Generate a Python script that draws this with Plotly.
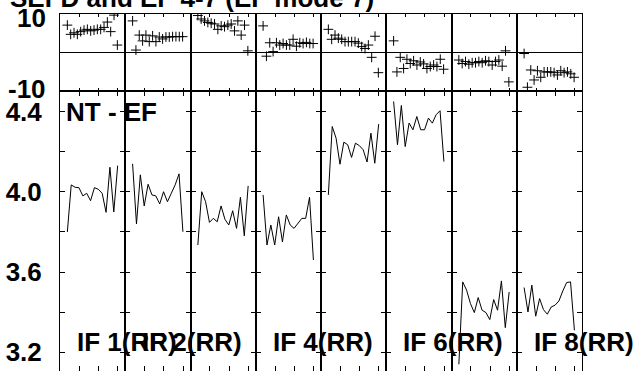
import plotly.graph_objects as go
from plotly.subplots import make_subplots

TITLE = "SEFD and EF 4-7 (EF mode 7)"
PANEL_LABEL = "NT - EF"
IF_LABELS = {1: "IF 1(RR)", 2: "IF 2(RR)", 4: "IF 4(RR)", 6: "IF 6(RR)", 8: "IF 8(RR)"}

# channels
CHAN_TOP = list(range(1, 17))
CHAN_BOT = list(range(1, 15))

# top panel: EF values per IF
EF = [
    [7.1, 4.7, 5.1, 4.7, 5.4, 5.8, 6.0, 5.6, 5.8, 6.0, 6.0, 6.5, 7.9, 5.4, 9.7, 1.9],
    [8.2, 0.6, 4.5, 3.0, 4.5, 2.8, 4.3, 2.8, 4.0, 3.5, 4.0, 4.0, 4.1, 4.1, 4.1, 4.1],
    [9.6, 8.7, 8.2, 7.8, 7.6, 7.4, 6.0, 6.9, 6.7, 7.1, 7.4, 5.6, 8.2, 4.5, 7.1, 0.4],
    [6.9, -1.0, 2.5, 0.2, 2.5, 1.9, 2.3, 1.9, 1.9, 3.4, 1.6, 2.5, 2.3, 2.6, 2.3, 2.3],
    [6.0, 3.4, 4.5, 3.7, 3.4, 2.8, 2.8, 2.8, 2.8, 2.4, 1.5, 1.0, 1.9, -1.3, 4.2, -5.3],
    [3.0, -5.1, -1.3, -4.2, -1.8, -2.9, -2.2, -3.3, -2.5, -3.0, -4.2, -3.7, -3.3, -3.7, -1.8, -4.4],
    [-2.0, -2.9, -2.4, -3.1, -2.7, -2.7, -2.4, -2.7, -2.2, -2.4, -3.3, -2.4, -2.0, -3.6, 0.4, -7.7],
    [-0.3, -9.1, -4.6, -7.2, -4.8, -6.5, -5.1, -5.1, -5.1, -5.3, -5.9, -4.8, -5.3, -5.1, -5.6, -6.5],
]

# bottom panel: NT - EF values per IF
NT = [
    [3.80, 4.035, 4.023, 4.021, 3.98, 3.993, 3.956, 4.021, 4.013, 3.993, 3.898, 4.123, 3.90, 4.131],
    [4.14, 3.84, 4.085, 3.93, 4.038, 3.985, 3.98, 3.94, 4.001, 3.951, 3.993, 4.035, 4.09, 3.801],
    [3.735, 4.001, 3.951, 3.848, 3.868, 3.851, 3.93, 3.863, 3.835, 3.906, 3.818, 3.973, 3.781, 4.03],
    [3.985, 3.735, 3.835, 3.735, 3.876, 3.751, 3.885, 3.835, 3.818, 3.843, 3.868, 3.868, 3.973, 3.66],
    [3.985, 4.326, 4.268, 4.138, 4.248, 4.235, 4.172, 4.243, 4.231, 4.21, 4.149, 4.293, 4.143, 4.338],
    [4.451, 4.235, 4.431, 4.226, 4.343, 4.31, 4.376, 4.31, 4.31, 4.368, 4.343, 4.385, 4.405, 4.151],
    [3.14, 3.551, 3.51, 3.443, 3.398, 3.473, 3.41, 3.398, 3.363, 3.463, 3.41, 3.556, 3.323, 3.501],
    [3.523, 3.401, 3.535, 3.38, 3.468, 3.413, 3.39, 3.426, 3.435, 3.456, 3.506, 3.548, 3.551, 3.31],
]

BOT_TICKS = [3.2, 3.4, 3.6, 3.8, 4.0, 4.2, 4.4]
BOT_TEXT = ["3.2", "", "3.6", "", "4.0", "", "4.4"]

FONT = "Liberation Sans, Arial, Helvetica, sans-serif"
NCOL = 8

fig = make_subplots(rows=2, cols=NCOL, row_heights=[76.7, 280.3],
                    horizontal_spacing=0, vertical_spacing=0)

for i in range(NCOL):
    fig.add_trace(go.Scatter(x=CHAN_TOP, y=EF[i], mode="markers",
                             marker=dict(symbol="cross-thin", size=7,
                                         line=dict(color="black", width=1)),
                             showlegend=False), row=1, col=i + 1)
    fig.add_trace(go.Scatter(x=CHAN_BOT, y=NT[i], mode="lines",
                             line=dict(color="black", width=1),
                             showlegend=False), row=2, col=i + 1)

fig.update_xaxes(showline=True, linecolor="black", linewidth=1, mirror="ticks",
                 ticks="inside", tickcolor="black", tickwidth=1,
                 showticklabels=False, showgrid=False, zeroline=False,
                 tickmode="linear")
fig.update_yaxes(showline=True, linecolor="black", linewidth=1, mirror="ticks",
                 ticks="inside", tickcolor="black", tickwidth=1,
                 showgrid=False)

fig.update_xaxes(range=[-1.204, 18.37], tick0=-1.204, dtick=5.79, ticklen=3, row=1)
fig.update_xaxes(range=[-0.899, 15.96], tick0=-0.899, dtick=4.99, ticklen=5, row=2)

fig.update_yaxes(range=[-10, 10], tickmode="array", tickvals=[-10, 10],
                 showticklabels=False, ticklen=5,
                 zeroline=True, zerolinecolor="black", zerolinewidth=1, row=1)
fig.update_yaxes(range=[3.1067, 4.5047], tickmode="array", tickvals=BOT_TICKS,
                 ticktext=BOT_TEXT, ticklen=5, zeroline=False,
                 showticklabels=False, row=2)
fig.update_yaxes(showticklabels=True, ticklabelstandoff=12,
                 tickfont=dict(family=FONT, size=26, color="black", weight="bold"),
                 row=2, col=1)

ann_font = dict(family=FONT, size=26, color="black", weight="bold")
annotations = []
# top panel tick labels
for val, txt, shift in [(10, "10", -4), (-10, "-10", 2)]:
    annotations.append(dict(text=txt, xref="paper", x=0, xanchor="right", xshift=-12,
                            yref="y", y=val, yanchor="middle", yshift=shift,
                            showarrow=False, font=ann_font))
# panel label
annotations.append(dict(text=PANEL_LABEL, xref="x9 domain", x=0, xshift=4,
                        xanchor="left", yref="y9 domain", y=1, yanchor="top", yshift=-4,
                        showarrow=False, font=ann_font))
for k, txt in IF_LABELS.items():
    annotations.append(dict(text=txt, xref=f"x{NCOL + k} domain", x=0, xshift=15,
                            xanchor="left", yref=f"y{NCOL + k}", y=3.2, yanchor="middle",
                            yshift=10, showarrow=False, font=ann_font))
# title
annotations.append(dict(text=TITLE, xref="paper", x=-52 / 522, xanchor="left",
                        yref="paper", y=1, yanchor="bottom", yshift=-1,
                        showarrow=False, font=ann_font))

fig.update_layout(width=635, height=371,
                  margin=dict(l=60, r=53, t=14, b=0),
                  paper_bgcolor="white", plot_bgcolor="white",
                  annotations=annotations, showlegend=False)

fig.write_html("out.html", config={"displayModeBar": False},
               post_script="document.body.style.margin='0px';")
